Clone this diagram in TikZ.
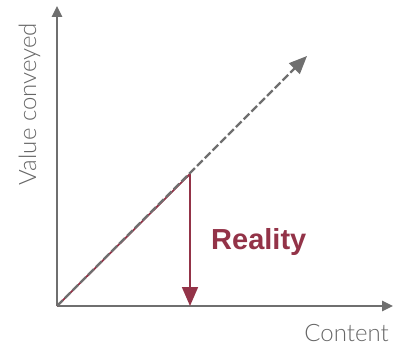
\documentclass[tikz,border=0pt]{standalone}
\usepackage{fontspec}
\setmainfont{Liberation Sans}
\newfontfamily\lightfont{Lato Light}
\usetikzlibrary{arrows.meta}
\definecolor{axisgrey}{HTML}{6F6F6F}
\definecolor{labelgrey}{HTML}{666666}
\definecolor{wine}{HTML}{933348}
\tikzset{
  axis/.style={draw=axisgrey, line width=1.6pt, -{Triangle[length=11pt,width=10.5pt]}},
  ideal/.style={draw=axisgrey, line width=2.2pt, dash pattern=on 8pt off 3pt, -{Triangle[length=18pt,width=15pt]}},
  real/.style={draw=wine, line width=1.8pt},
  realdrop/.style={real, -{Triangle[length=19pt,width=16pt]}},
  axislabel/.style={text=labelgrey, font=\lightfont\fontsize{24}{27}\selectfont, inner sep=0pt},
  reallabel/.style={text=wine, font=\fontsize{29}{32}\selectfont\bfseries, inner sep=0pt}
}
\begin{document}
\begin{tikzpicture}[x=1pt,y=-1pt]
  \useasboundingbox (0,0) rectangle (402,345);
  % key points of the chart
  \coordinate (O) at (57,306);
  \coordinate (ytip) at (57,6);
  \coordinate (xtip) at (393,306);
  \coordinate (dtip) at (307,56);
  \coordinate (corner) at (190,174);
  \coordinate (foot) at (190,306);
  % axes
  \draw[axis] (O) -- (ytip);
  \draw[axis] (O) -- (xtip);
  % real growth, then the drop, below the dashed ideal line
  \draw[real] (O) -- (corner);
  \draw[realdrop] (corner) -- (foot);
  \draw[ideal] (O) -- (dtip);
  % labels
  \node[axislabel, anchor=base east] (content) at (389,341) {Content};
  \node[axislabel, rotate=90, anchor=base] (value) at (36,104) {Value conveyed};
  \node[reallabel, anchor=base west] (reality) at (211,249) {Reality};
\end{tikzpicture}
\end{document}
